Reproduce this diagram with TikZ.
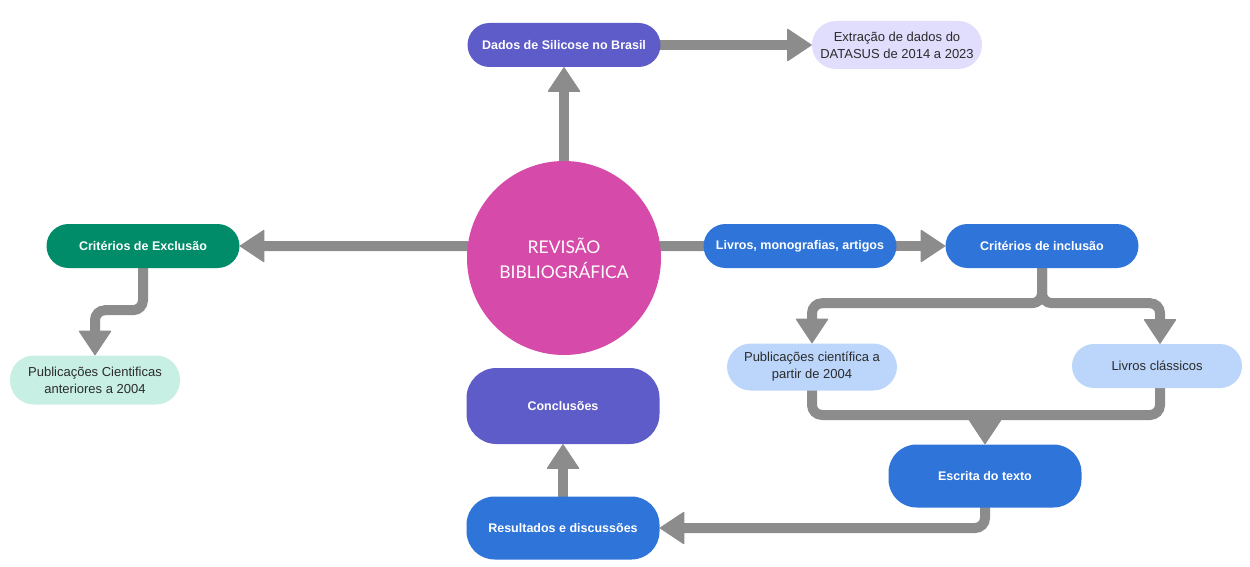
\documentclass[tikz,border=0pt]{standalone}
\usepackage{fontspec}
\setmainfont{Liberation Sans}
\newfontfamily\circfont{Lato}
\usetikzlibrary{arrows.meta,positioning,backgrounds}

\definecolor{roxo}{HTML}{5E5CC8}
\definecolor{lavanda}{HTML}{E1DDFC}
\definecolor{magenta}{HTML}{D64BA9}
\definecolor{verde}{HTML}{008C68}
\definecolor{menta}{HTML}{C8EFE4}
\definecolor{azul}{HTML}{2F74D9}
\definecolor{azulclaro}{HTML}{BBD5FB}
\definecolor{cinza}{HTML}{8C8C8C}
\definecolor{texto}{HTML}{2B2B2B}

\begin{document}
\begin{tikzpicture}[x=1pt,y=-1pt]
			\tikzstyle{bloco} = [rectangle, rounded corners=22pt, minimum width=193pt, minimum height=44pt, text centered, inner sep=0pt, text=white, font=\fontsize{12.5}{15}\selectfont\bfseries];
			\tikzstyle{caixa} = [rectangle, rounded corners=24pt, minimum width=170pt, minimum height=48pt, align=center, inner sep=0pt, text=texto, font=\fontsize{13}{17}\selectfont];
			\tikzstyle{seta} = [draw=cinza, line width=10pt, line cap=round, rounded corners=10pt, -{Triangle[width=33pt,length=25pt,line width=1pt,round]}];
			\tikzstyle{linha} = [draw=cinza, line width=10pt, line cap=round, rounded corners=10pt];
			\useasboundingbox (0,0) rectangle (1250,567);
			
			\draw node [circle, fill=magenta, minimum size=194pt, align=center, text=white, font=\circfont\fontsize{17.5}{25}\selectfont] (revisao) at (564,258) {REVISÃO\\BIBLIOGRÁFICA};
			\draw node [bloco, fill=roxo] (dados) at (564,45) {Dados de Silicose no Brasil};
			\draw node [caixa, fill=lavanda] (extracao) at (897,45) {Extração de dados do\\DATASUS de 2014 a 2023};
			\draw node [bloco, fill=verde] (exclusao) at (143,246) {Critérios de Exclusão};
			\draw node [caixa, fill=menta, minimum height=49pt] (anteriores) at (95,380) {Publicações Cientificas\\anteriores a 2004};
			\draw node [bloco, fill=azul] (livros) at (800,246) {Livros, monografias, artigos};
			\draw node [bloco, fill=azul] (inclusao) at (1042,246) {Critérios de inclusão};
			\draw node [caixa, fill=azulclaro, minimum height=47pt] (pub2004) at (812,367) {Publicações científica a\\partir de 2004};
			\draw node [caixa, fill=azulclaro, minimum height=44pt, rounded corners=22pt] (classicos) at (1157,366) {Livros clássicos};
			\draw node [bloco, fill=roxo, minimum height=76pt, rounded corners=30pt] (conclusoes) at (563,406) {Conclusões};
			\draw node [bloco, fill=azul, minimum height=63pt, rounded corners=28pt] (escrita) at (985,476) {Escrita do texto};
			\draw node [bloco, fill=azul, minimum height=63pt, rounded corners=28pt] (resultados) at (563,528) {Resultados e discussões};
			\coordinate (juncao) at (985,415);
			
			\begin{scope}[on background layer]
			\fill [white] (0,0) rectangle (1250,567);
			\draw [seta] (revisao.north) -- (dados.south);
			\draw [seta] (dados.east) -- (extracao.west);
			\draw [seta] (revisao.173) -- (exclusao.east);
			\draw [seta] (exclusao.south) -- ++(0,42) -| (anteriores.north);
			\draw [linha] (revisao.7) -- (livros.west);
			\draw [seta] (livros.east) -- (inclusao.west);
			\draw [seta] (inclusao.south) -- ++(0,35) -| (pub2004.north);
			\draw [seta] (inclusao.south) -- ++(0,35) -| ([xshift=3pt]classicos.north);
			\draw [linha] (pub2004.south) |- (juncao);
			\draw [linha] ([xshift=3pt]classicos.south) |- (juncao);
			\draw [seta] (juncao) -- (escrita.north);
			\draw [seta] (escrita.south) |- (resultados.east);
			\draw [seta] (resultados.north) -- (conclusoes.south);
			\end{scope}
			
		\end{tikzpicture}
\end{document}
